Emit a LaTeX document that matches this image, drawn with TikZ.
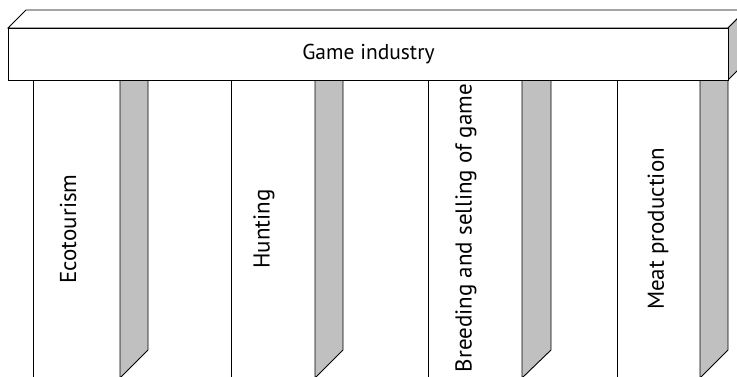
\documentclass[tikz,border=0pt]{standalone}
\usepackage{fontspec}
\setmainfont{PT Sans}
\definecolor{bargray}{HTML}{C0C0C0}
\begin{document}
\begin{tikzpicture}[x=1pt,y=-1pt,
  edge/.style={draw=black,line width=0.9pt,line join=miter},
  bar/.style={edge,fill=bargray},
  lbl/.style={font=\fontsize{23}{27}\selectfont,inner sep=0pt,rotate=90,anchor=center}]
\useasboundingbox (0,0) rectangle (737,377);
\clip (0,0) rectangle (737,377);
% columns
\foreach \xl/\gl/\gr in {33/120/148, 231/315/343, 428/522/551, 617/700/728}{
  \draw[edge] (\xl,80) -- (\xl,380);
  \draw[bar] (\gl,80) -- (\gl,380) -- (\gl,378) -- (\gr,350) -- (\gr,80) -- cycle;
}
% beam
\draw[edge,fill=white] (8,28) -- (26,10) -- (746,10) -- (728,28) -- cycle;
\draw[bar] (728,28) -- (746,10) -- (746,62) -- (728,80) -- cycle;
\node[edge,fill=white,minimum width=720pt,minimum height=52pt,inner sep=0pt,anchor=north west,
  font=\fontsize{21.5}{25}\selectfont] (beam) at (8,28) {Game industry};
% labels
\node[lbl] (eco) at (68,229) {Ecotourism};
\node[lbl] (hunt) at (264,229) {Hunting};
\node[lbl] (breed) at (466,228) {Breeding and selling of game};
\node[lbl] (meat) at (658,229) {Meat production};
\end{tikzpicture}
\end{document}
